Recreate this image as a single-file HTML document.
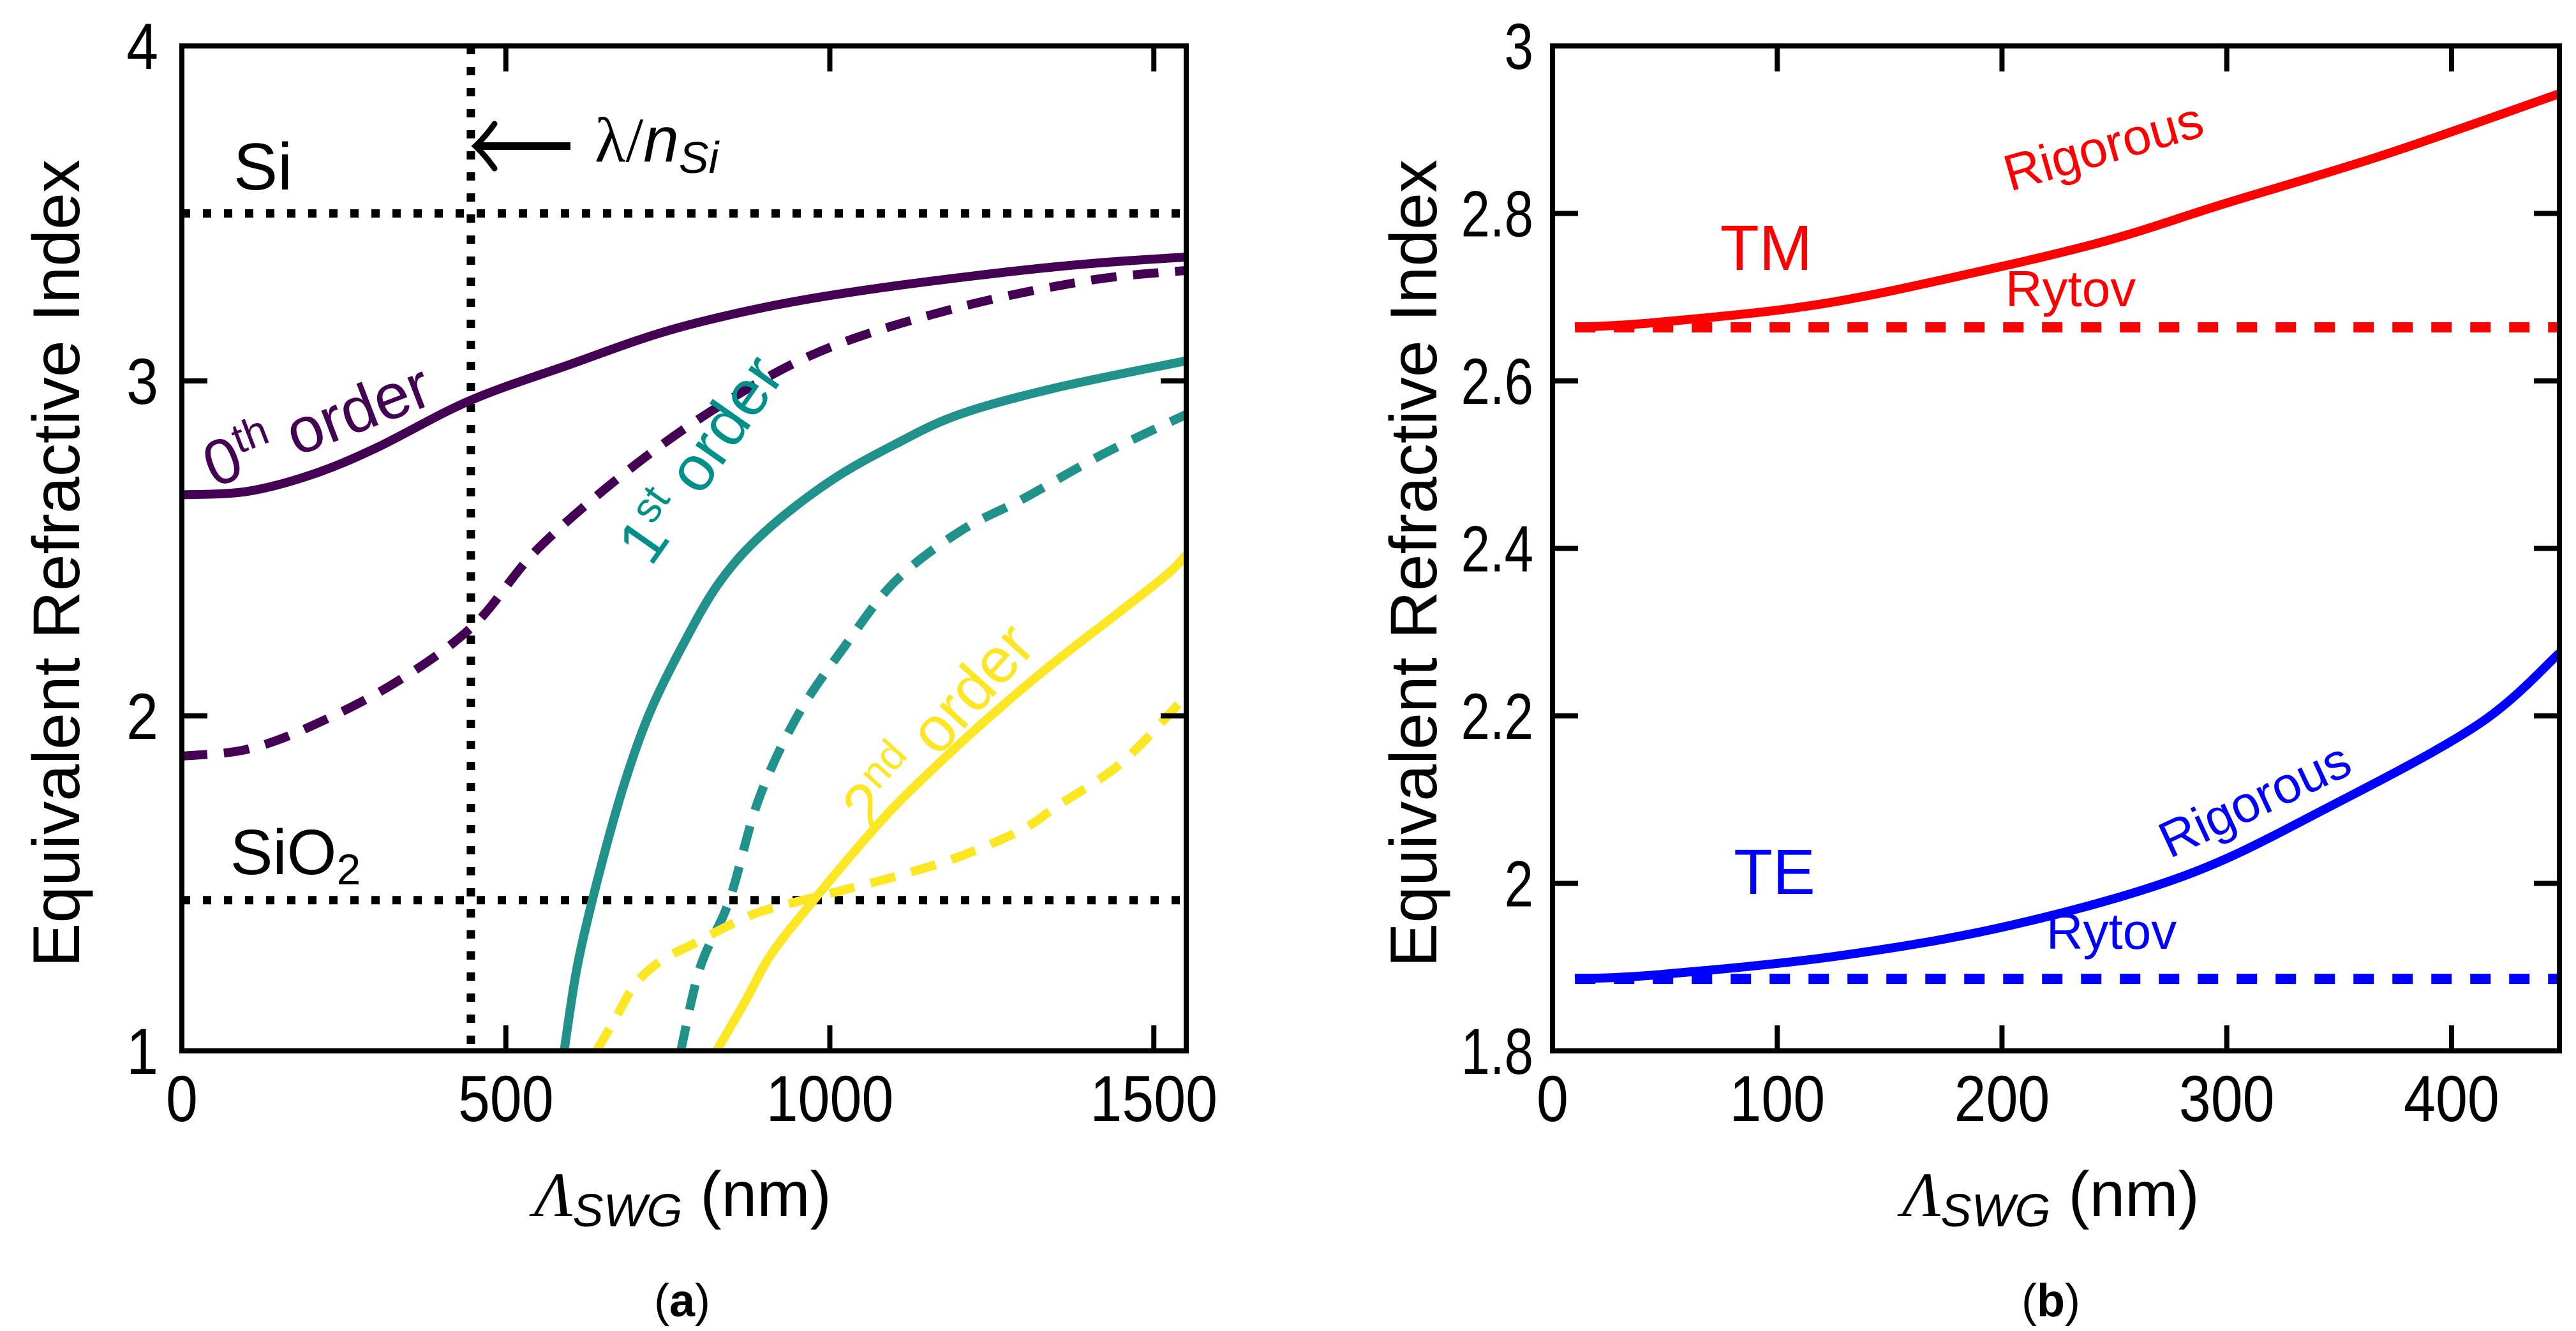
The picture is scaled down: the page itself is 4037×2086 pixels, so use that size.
<!DOCTYPE html>
<html><head><meta charset="utf-8">
<style>
html,body{margin:0;padding:0;background:#fff;}
svg{display:block;}
text{font-family:"Liberation Sans",sans-serif;}
</style></head>
<body>
<svg id="fig" xmlns="http://www.w3.org/2000/svg" width="4037" height="2086" viewBox="0 0 4037 2086">
<g id="pa"></g>
<g id="pb"></g>
</svg>
<script>
// ---- Panel (a) data ----
const aXTicks = [0, 500, 1000, 1500];
const aYTicks = [1, 2, 3, 4];
const a0SolidX = [0, 100, 200, 300, 443, 600, 750, 900, 1050, 1250, 1400, 1550];
const a0SolidY = [2.66, 2.67, 2.72, 2.80, 2.94, 3.05, 3.15, 3.22, 3.27, 3.32, 3.35, 3.37];
const a0DashX = [0, 100, 200, 330, 450, 550, 700, 850, 1000, 1200, 1400, 1550];
const a0DashY = [1.88, 1.90, 1.97, 2.10, 2.27, 2.50, 2.75, 2.95, 3.10, 3.22, 3.30, 3.33];
const a1SolidX = [590, 610, 640, 680, 720, 770, 830, 900, 1000, 1100, 1200, 1350, 1550];
const a1SolidY = [1.0, 1.25, 1.5, 1.78, 2.0, 2.2, 2.4, 2.55, 2.70, 2.81, 2.90, 2.98, 3.06];
const a1DashX = [770, 800, 845, 890, 950, 1020, 1100, 1200, 1300, 1420, 1550];
const a1DashY = [1.0, 1.25, 1.45, 1.75, 2.0, 2.2, 2.4, 2.55, 2.65, 2.78, 2.90];
const a2SolidX = [825, 870, 910, 975, 1040, 1100, 1180, 1260, 1340, 1440, 1519, 1550];
const a2SolidY = [1.0, 1.15, 1.29, 1.45, 1.60, 1.73, 1.88, 2.02, 2.15, 2.30, 2.42, 2.48];
const a2DashX = [640, 670, 700, 740, 790, 850, 900, 1000, 1100, 1200, 1296, 1350, 1450, 1545];
const a2DashY = [1.0, 1.1, 1.2, 1.27, 1.32, 1.38, 1.42, 1.47, 1.52, 1.58, 1.66, 1.73, 1.86, 2.05];
const aRefLevels = [3.5, 1.45];
const aLambdaCut = [446];
// ---- Panel (b) data ----
const bXTicks = [0, 100, 200, 300, 400];
const bYTicks = [1.8, 2.0, 2.2, 2.4, 2.6, 2.8, 3.0];
const bYTickLabels = ["1.8", "2", "2.2", "2.4", "2.6", "2.8", "3"];
const bTMX = [10, 47, 120, 197, 250, 297, 370, 448];
const bTMY = [2.664, 2.670, 2.692, 2.735, 2.770, 2.810, 2.870, 2.943];
const bTMRytov = [2.664];
const bTEX = [10, 47, 126, 204, 282, 346, 412, 448];
const bTEY = [1.886, 1.891, 1.913, 1.950, 2.010, 2.092, 2.190, 2.275];
const bTERytov = [1.886];

const NS = "http://www.w3.org/2000/svg";
function mk(parent, tag, attrs, txt){
  const e = document.createElementNS(NS, tag);
  for (const k in attrs) e.setAttribute(k, attrs[k]);
  if (txt !== undefined) e.textContent = txt;
  parent.appendChild(e);
  return e;
}
function condense(t, f){
  const w = t.getComputedTextLength();
  if (w > 0){ t.setAttribute('textLength', (w*f).toFixed(1)); t.setAttribute('lengthAdjust','spacingAndGlyphs'); }
}
function axisFn(d0,d1,p0,p1){ return v => p0 + (v-d0)/(d1-d0)*(p1-p0); }
function pathD(xs, ys, X, Y){
  const P = xs.map((x,i)=>[X(x),Y(ys[i])]);
  let d = "M"+P[0][0].toFixed(1)+","+P[0][1].toFixed(1);
  for (let i=0;i<P.length-1;i++){
    const p0=P[Math.max(0,i-1)], p1=P[i], p2=P[i+1], p3=P[Math.min(P.length-1,i+2)];
    const c1=[p1[0]+(p2[0]-p0[0])/6, p1[1]+(p2[1]-p0[1])/6];
    const c2=[p2[0]-(p3[0]-p1[0])/6, p2[1]-(p3[1]-p1[1])/6];
    d += " C"+c1[0].toFixed(1)+","+c1[1].toFixed(1)+" "+c2[0].toFixed(1)+","+c2[1].toFixed(1)+" "+p2[0].toFixed(1)+","+p2[1].toFixed(1);
  }
  return d;
}

// ===== Panel A =====
const pa = document.getElementById('pa');
const aL=285, aR=1859, aT=72, aB=1647;
const aX = axisFn(0,1550,aL,aR), aY = axisFn(1,4,aB,aT);
const aClip = mk(pa,'clipPath',{id:'clipA'});
mk(aClip,'rect',{x:aL,y:aT,width:aR-aL,height:aB-aT});
const aPlot = mk(pa,'g',{'clip-path':'url(#clipA)'});


aRefLevels.forEach((v,i)=>{
  const l = mk(aPlot,'line',{x1:aL,x2:aR,y1:aY(v),y2:aY(v),stroke:'#000','stroke-width':13,'stroke-dasharray':'13 20'});
  
  
});
aLambdaCut.forEach(v=>{
  const l = mk(aPlot,'line',{x1:aX(v),x2:aX(v),y1:aT,y2:aB,stroke:'#000','stroke-width':13,'stroke-dasharray':'13 20'});
  
  
});
const aSeries = [
  [a0DashX,a0DashY,'#440154',true,'order0-rytov'],
  [a0SolidX,a0SolidY,'#440154',false,'order0-rigorous'],
  [a1DashX,a1DashY,'#21918c',true,'order1-rytov'],
  [a1SolidX,a1SolidY,'#21918c',false,'order1-rigorous'],
  [a2DashX,a2DashY,'#fde725',true,'order2-rytov'],
  [a2SolidX,a2SolidY,'#fde725',false,'order2-rigorous']
];
aSeries.forEach(s=>{
  const p = mk(aPlot,'path',{d:pathD(s[0],s[1],aX,aY),fill:'none',stroke:s[2],'stroke-width':14});
  if (s[3]) p.setAttribute('stroke-dasharray','40 26');
  
  
});
const aFrame = mk(pa,'rect',{x:aL,y:aT,width:aR-aL,height:aB-aT,fill:'none',stroke:'#000','stroke-width':8});


aXTicks.forEach(v=>{
  const x=aX(v);
  mk(pa,'line',{x1:x,x2:x,y1:aB,y2:aB-40,stroke:'#000','stroke-width':8});
  mk(pa,'line',{x1:x,x2:x,y1:aT,y2:aT+40,stroke:'#000','stroke-width':8});
  const t = mk(pa,'text',{x:x,y:1757,'font-size':102,'text-anchor':'middle'},String(v));
  
  
  condense(t,0.88);
});
aYTicks.forEach(v=>{
  const y=aY(v);
  mk(pa,'line',{x1:aL,x2:aL+40,y1:y,y2:y,stroke:'#000','stroke-width':8});
  mk(pa,'line',{x1:aR,x2:aR-40,y1:y,y2:y,stroke:'#000','stroke-width':8});
  const t = mk(pa,'text',{x:248,y:y+36,'font-size':102,'text-anchor':'end'},String(v));
  
  
  condense(t,0.88);
});

// ===== Panel B =====
const pb = document.getElementById('pb');
const bL=2433, bR=4011, bT=72, bB=1647;
const bX = axisFn(0,448,bL,bR), bY = axisFn(1.8,3.0,bB,bT);
const bClip = mk(pb,'clipPath',{id:'clipB'});
mk(bClip,'rect',{x:bL,y:bT,width:bR-bL,height:bB-bT});
const bPlot = mk(pb,'g',{'clip-path':'url(#clipB)'});


[[bTMRytov,'#ff0000','tm-rytov'],[bTERytov,'#0000ff','te-rytov']].forEach(s=>{
  const l = mk(bPlot,'line',{x1:bX(bTMX[0]),x2:bR,y1:bY(s[0][0]),y2:bY(s[0][0]),stroke:s[1],'stroke-width':16,'stroke-dasharray':'32 29'});
  
  
});
[[bTMX,bTMY,'#ff0000','tm-rigorous'],[bTEX,bTEY,'#0000ff','te-rigorous']].forEach(s=>{
  const p = mk(bPlot,'path',{d:pathD(s[0],s[1],bX,bY),fill:'none',stroke:s[2],'stroke-width':14});
  
  
});
const bFrame = mk(pb,'rect',{x:bL,y:bT,width:bR-bL,height:bB-bT,fill:'none',stroke:'#000','stroke-width':8});


bXTicks.forEach(v=>{
  const x=bX(v);
  mk(pb,'line',{x1:x,x2:x,y1:bB,y2:bB-40,stroke:'#000','stroke-width':8});
  mk(pb,'line',{x1:x,x2:x,y1:bT,y2:bT+40,stroke:'#000','stroke-width':8});
  const t = mk(pb,'text',{x:x,y:1757,'font-size':102,'text-anchor':'middle'},String(v));
  
  
  condense(t,0.88);
});
bYTicks.forEach((v,i)=>{
  const y=bY(v);
  mk(pb,'line',{x1:bL,x2:bL+40,y1:y,y2:y,stroke:'#000','stroke-width':8});
  mk(pb,'line',{x1:bR,x2:bR-40,y1:y,y2:y,stroke:'#000','stroke-width':8});
  const t = mk(pb,'text',{x:bL-30,y:y+36,'font-size':102,'text-anchor':'end'},bYTickLabels[i]);
  
  
  condense(t,0.8);
});
</script>
<script>
(function(){
const pa = document.getElementById('pa');
const pb = document.getElementById('pb');
function T(parent, x, y, size, txt, name, extra){
  const t = document.createElementNS("http://www.w3.org/2000/svg",'text');
  t.setAttribute('x',x); t.setAttribute('y',y); t.setAttribute('font-size',size);
  t.setAttribute('text-anchor','middle');
  if (extra) for (const k in extra) t.setAttribute(k, extra[k]);
  t.innerHTML = txt;
  
  
  parent.appendChild(t);
  return t;
}
// panel A annotations
T(pa,88,883,104,'Equivalent Refractive Index','y-axis-title-a',{transform:'rotate(-90 88 883)',dy:'36'});
T(pa,1070,1906,100,'<tspan font-family="Liberation Serif" font-style="italic">Λ</tspan><tspan font-style="italic" font-size="72" dy="16">SWG</tspan><tspan dy="-16"> (nm)</tspan>','x-axis-title-a');
T(pa,1069,2063,72,'(<tspan font-weight="bold">a</tspan>)','panel-label-a',{'font-family':'Liberation Serif'});
T(pa,412,297,104,'Si','si-label');
T(pa,463,1370,100,'SiO<tspan font-size="68" dy="16">2</tspan>','sio2-label');
T(pa,932,253,100,'<tspan font-family="Liberation Serif">λ/</tspan><tspan font-style="italic">n</tspan><tspan font-style="italic" font-size="70" dy="18">Si</tspan>','lambda-nsi-label',{'text-anchor':'start'});
T(pa,335,765,100,'0<tspan font-size="66" dy="-36">th</tspan><tspan dy="36"> order</tspan>','order0-label',{fill:'#440154','text-anchor':'start',transform:'rotate(-21 335 765)'});
T(pa,1020,890,100,'1<tspan font-size="66" dy="-36">st</tspan><tspan dy="36"> order</tspan>','order1-label',{fill:'#00908a','text-anchor':'start',transform:'rotate(-55 1020 890)'});
T(pa,1365,1305,100,'2<tspan font-size="66" dy="-36">nd</tspan><tspan dy="36"> order</tspan>','order2-label',{fill:'#fde725','text-anchor':'start',transform:'rotate(-48 1365 1305)'});
const ar = document.createElementNS("http://www.w3.org/2000/svg",'g');


ar.innerHTML = '<line x1="748" y1="229" x2="894" y2="229" stroke="#000" stroke-width="12"/><path d="M775,194 Q760,215 745,229 Q760,243 775,264" fill="none" stroke="#000" stroke-width="9" stroke-linecap="round"/>';
pa.appendChild(ar);

// panel B annotations
T(pb,2215,883,104,'Equivalent Refractive Index','y-axis-title-b',{transform:'rotate(-90 2215 883)',dy:'36'});
T(pb,3214,1906,100,'<tspan font-family="Liberation Serif" font-style="italic">Λ</tspan><tspan font-style="italic" font-size="72" dy="16">SWG</tspan><tspan dy="-16"> (nm)</tspan>','x-axis-title-b');
T(pb,3214,2063,72,'(<tspan font-weight="bold">b</tspan>)','panel-label-b',{'font-family':'Liberation Serif'});
T(pb,2768,423,100,'TM','tm-label',{fill:'#ff0000'});
T(pb,2781,1401,100,'TE','te-label',{fill:'#0000ff'});
T(pb,3150,300,80,'Rigorous','tm-rigorous-label',{fill:'#ff0000','text-anchor':'start',transform:'rotate(-16 3150 300)'});
T(pb,3245,480,80,'Rytov','tm-rytov-label',{fill:'#ff0000'});
T(pb,3400,1346,80,'Rigorous','te-rigorous-label',{fill:'#0000ff','text-anchor':'start',transform:'rotate(-25 3400 1346)'});
T(pb,3309,1487,80,'Rytov','te-rytov-label',{fill:'#0000ff'});
})();
</script>
</body></html>
